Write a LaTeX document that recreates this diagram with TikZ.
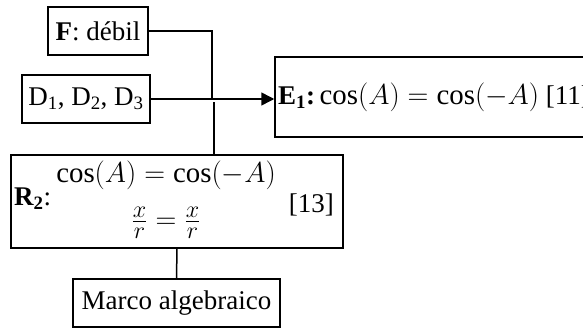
\documentclass[tikz,border=0pt]{standalone}
\usepackage{graphicx}
\usepackage{fontspec}
\usepackage{amsmath}
\setmainfont{Liberation Serif}
\usetikzlibrary{arrows.meta}
\newcommand{\mymath}[1]{\scalebox{1.16}{\fontsize{24.88}{28}\selectfont$#1$}}
\begin{document}
\begin{tikzpicture}[x=1pt,y=-1pt,
  box/.style={draw,line width=1.5pt,inner sep=0pt,font=\fontsize{27}{30}\selectfont},
  lbl/.style={inner sep=0pt,font=\fontsize{27}{30}\selectfont},
  conn/.style={line width=1.5pt}]
\useasboundingbox (0,0) rectangle (583,329);
\node[box,minimum width=100pt,minimum height=48pt] (F) at (98,31) {\textbf{F}: débil};
\node[box,minimum width=128pt,minimum height=48pt] (D) at (86,99) {D\textsubscript{1}, D\textsubscript{2}, D\textsubscript{3}};
\node[box,minimum width=330pt,minimum height=80pt] (E) at (440,97) {};
\node[lbl,anchor=west] (Et) at (278,97) {\textbf{E\textsubscript{1}:}\,\mymath{\cos(A) = \cos(-A)} [11]};
\node[box,minimum width=332pt,minimum height=93pt] (R) at (177,201.5) {};
\node[lbl,anchor=west] (Rl) at (14,199) {\textbf{R\textsubscript{2}}:};
\node[lbl] (Rc) at (166,175) {\mymath{\cos(A) = \cos(-A)}};
\node[lbl] (Rf) at (166,223) {\mymath{\frac{x}{r} = \frac{x}{r}}};
\node[lbl,anchor=east] (Rn) at (334,205) {[13]};
\node[box,minimum width=207pt,minimum height=48pt] (M) at (176.5,303) {Marco algebraico};
\coordinate (j1) at (212,31);
\coordinate (j2) at (212,99);
\coordinate (j3) at (214,102);
\draw[conn] (F.east) -- (j1) -- (j2);
\draw[conn,-{Triangle[length=13pt,width=13pt]}] (D.east) -- (D.east -| E.west);
\draw[conn] (j3) -- (j3 |- R.north);
\draw[conn] (R.south) -- (M.north);
\end{tikzpicture}
\end{document}
